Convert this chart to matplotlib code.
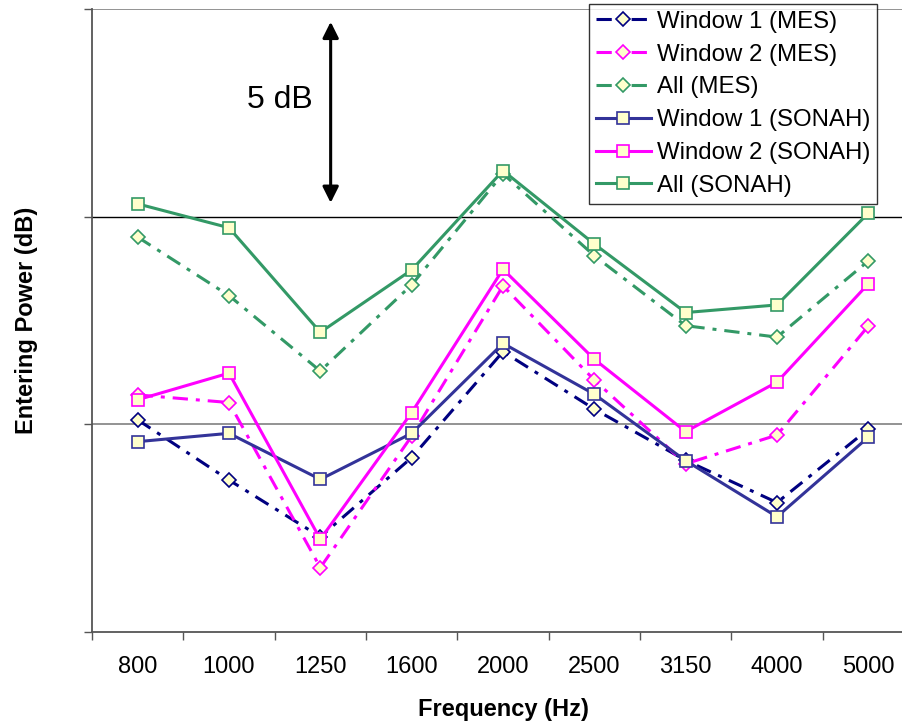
import matplotlib
matplotlib.use("Agg")
import matplotlib.pyplot as plt
import numpy as np

plt.rcParams['font.family'] = ['Liberation Sans', 'DejaVu Sans']

categories = ["800", "1000", "1250", "1600", "2000", "2500", "3150", "4000", "5000"]

w1_mes = [6.13, 4.39, 2.75, 5.04, 8.10, 6.44, 4.96, 3.74, 5.86]
w2_mes = [6.85, 6.63, 1.86, 5.66, 10.0, 7.28, 4.86, 5.69, 8.84]
all_mes = [11.41, 9.72, 7.54, 10.03, 13.24, 10.87, 8.85, 8.52, 10.72]
w1_sonah = [5.50, 5.74, 4.41, 5.74, 8.34, 6.87, 4.95, 3.33, 5.63]
w2_sonah = [6.71, 7.48, 2.68, 6.34, 10.48, 7.88, 5.79, 7.22, 10.06]
all_sonah = [12.37, 11.68, 8.66, 10.46, 13.33, 11.21, 9.23, 9.45, 12.10]

series = [
    ("Window 1 (MES)", w1_mes, "#000080", "D", True),
    ("Window 2 (MES)", w2_mes, "#FF00FF", "D", True),
    ("All (MES)", all_mes, "#339966", "D", True),
    ("Window 1 (SONAH)", w1_sonah, "#333399", "s", False),
    ("Window 2 (SONAH)", w2_sonah, "#FF00FF", "s", False),
    ("All (SONAH)", all_sonah, "#339966", "s", False),
]

fig = plt.figure(figsize=(9.03, 7.22), dpi=100)
ax = fig.add_axes([92/903, 1-632/722, 822/903, 623/722])

x = np.arange(len(categories))
for label, vals, color, marker, dashed in series:
    kw = dict(color=color, lw=2.2, marker=marker, markerfacecolor="#FFFFCC",
              markeredgecolor=color, markeredgewidth=1.2, label=label, zorder=3)
    if dashed:
        kw["linestyle"] = (0, (5, 2.6, 1.3, 2.6))
        kw["markersize"] = 7
    else:
        kw["markersize"] = 8
    ax.plot(x, vals, **kw)

ax.set_xlim(-0.5, len(categories) - 0.5)
ax.set_ylim(0, 18)

ax.axhline(6, color="#808080", lw=1.2, zorder=1)
ax.axhline(12, color="black", lw=1.0, zorder=1)
ax.axhline(18, color="#808080", lw=1.2, zorder=1)

for s in ["top", "right"]:
    ax.spines[s].set_visible(False)
for s in ["left", "bottom"]:
    ax.spines[s].set_color("#555555")
    ax.spines[s].set_linewidth(1.3)

ax.set_xticks(x)
ax.set_xticklabels(categories, fontsize=17)
ax.set_xticks(np.arange(-0.5, len(categories), 1.0), minor=True)
ax.tick_params(axis="x", which="major", length=0, pad=17)
ax.tick_params(axis="x", which="minor", length=6, direction="out", color="#555555", width=1)
ax.set_yticks([0, 6, 12, 18])
ax.set_yticklabels([])
ax.tick_params(axis="y", length=6, direction="out", color="#555555", width=1)

ax.set_xlabel("Frequency (Hz)", fontsize=17, fontweight="bold", labelpad=15)
ax.set_ylabel("Entering Power (dB)", fontsize=17, fontweight="bold")
ax.yaxis.set_label_coords(-0.0657, 0.5)

ax.annotate("", xy=(2.113, 17.63), xytext=(2.113, 12.40),
            arrowprops=dict(arrowstyle="<|-|>", color="black", lw=2.2,
                            mutation_scale=24, shrinkA=0, shrinkB=0))
ax.text(1.56, 15.38, "5 dB", fontsize=23, ha="center", va="center")

leg = ax.legend(loc="upper left", bbox_to_anchor=(589/903, 1 - 4/722),
                bbox_transform=fig.transFigure, borderaxespad=0,
                fontsize=17.3, frameon=True, fancybox=False,
                handlelength=2.3, handletextpad=0.25, labelspacing=0.45,
                borderpad=0.28)
leg.get_frame().set_edgecolor("black")
leg.get_frame().set_linewidth(1.0)

fig.savefig("out.png", dpi=100)
